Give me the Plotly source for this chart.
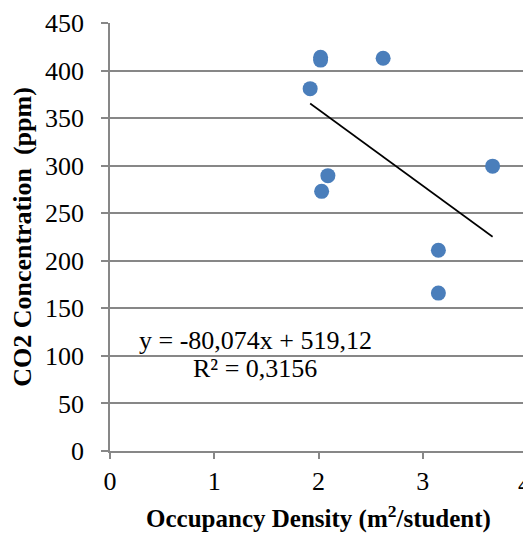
import plotly.graph_objects as go
import numpy as np

density = [1.92, 2.02, 2.02, 2.62, 2.09, 2.03, 3.67, 3.15, 3.15]
co2 = [381, 414, 411, 413, 289.5, 273, 299.5, 211, 166]
slope = -80.074
intercept = 519.12
eq_line1 = "y = -80,074x + 519,12"
eq_line2 = "R² = 0,3156"
x_max_tick = 4

x_tr = np.array([min(density), max(density)])
y_tr = slope * x_tr + intercept

font = "Liberation Serif"
grid = "#878787"

fig = go.Figure()
fig.add_trace(go.Scatter(x=density, y=co2, mode="markers",
                         marker=dict(size=15, color="#4a7ebb", line=dict(width=0)),
                         showlegend=False, cliponaxis=False))
fig.add_trace(go.Scatter(x=x_tr, y=y_tr, mode="lines",
                         line=dict(color="black", width=1.6), showlegend=False))

fig.add_annotation(x=1.395, y=116.5, xref="x", yref="y", text=eq_line1,
                   showarrow=False, font=dict(family=font, size=26, color="black"))
fig.add_annotation(x=1.395, y=87, xref="x", yref="y", text=eq_line2,
                   showarrow=False, font=dict(family=font, size=26, color="black"))
# last tick label, partly cut by the right edge as in the reference
fig.add_annotation(x=x_max_tick, y=0, xref="x", yref="paper", yanchor="top",
                   yshift=-17, xshift=-3, text=str(x_max_tick), showarrow=False,
                   font=dict(family=font, size=26, color="black"))

fig.update_layout(
    width=523, height=527,
    margin=dict(l=102, r=4, t=15, b=84),
    plot_bgcolor="white", paper_bgcolor="white",
    font=dict(family=font, color="black"),
    xaxis=dict(range=[0, 4], dtick=1, showgrid=False, showline=True, linecolor=grid,
               linewidth=1.5, ticks="outside", ticklen=6, tickcolor=grid, tickwidth=1.5,
               tickfont=dict(size=26), zeroline=False, automargin=False,
               ticklabelstandoff=0,
               title=dict(text="<b>Occupancy Density (m<sup>2</sup>/student)</b>",
                          font=dict(size=25), standoff=15)),
    yaxis=dict(range=[0, 450], dtick=50, showgrid=True, gridcolor=grid, gridwidth=1.5,
               showline=True, linecolor=grid, linewidth=1.5, ticks="outside", ticklen=7,
               tickcolor=grid, tickwidth=1.5, tickfont=dict(size=26), zeroline=False,
               automargin=False, ticklabelstandoff=12,
               title=dict(text="<b>CO2 Concentration  (ppm)</b>", font=dict(size=26),
                          standoff=11)),
)

fig.write_html("out.html")
